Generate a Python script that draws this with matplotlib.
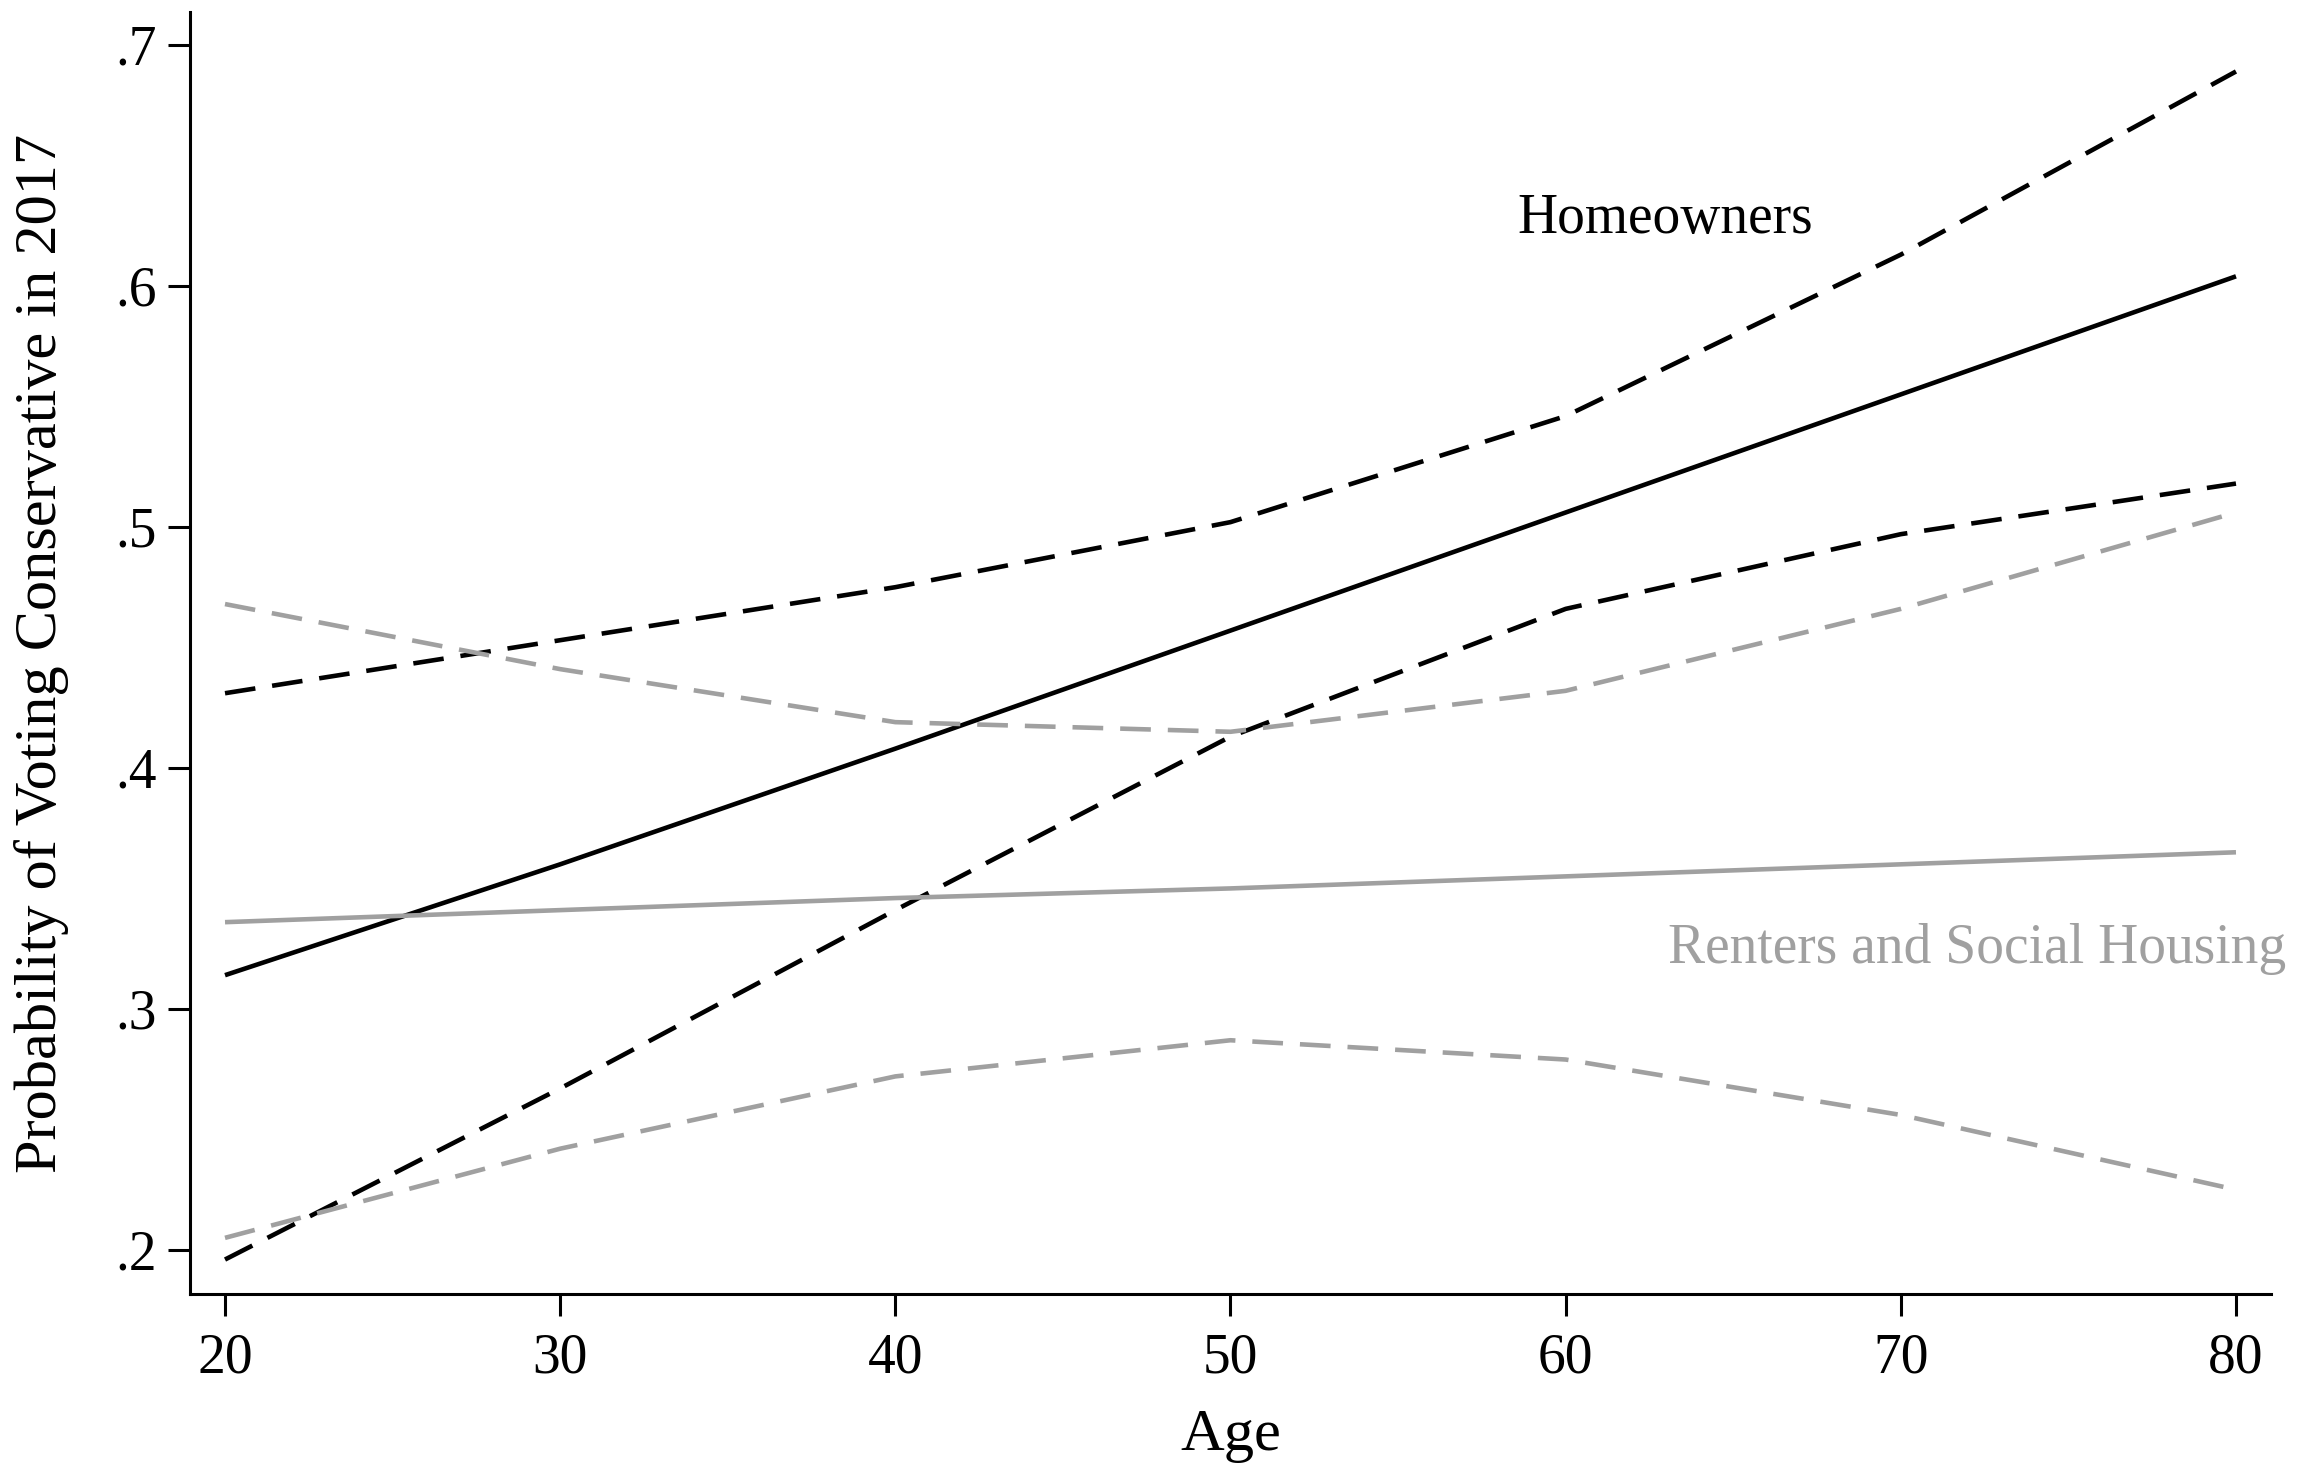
import matplotlib
matplotlib.use("Agg")
import matplotlib.pyplot as plt
import numpy as np

plt.rcParams['font.family'] = ['Liberation Serif', 'DejaVu Serif']

# predicted probabilities by age, with 95% bounds
age = [20, 30, 40, 50, 60, 70, 80]

own_mean = [0.314, 0.360, 0.408, 0.457, 0.506, 0.555, 0.604]
own_hi = [0.431, 0.453, 0.475, 0.502, 0.546, 0.613, 0.689]
own_lo = [0.196, 0.267, 0.341, 0.413, 0.466, 0.497, 0.518]

rent_mean = [0.336, 0.341, 0.346, 0.350, 0.355, 0.360, 0.365]
rent_hi = [0.468, 0.441, 0.419, 0.415, 0.432, 0.466, 0.506]
rent_lo = [0.205, 0.242, 0.272, 0.287, 0.279, 0.256, 0.225]

xticks = [20, 30, 40, 50, 60, 70, 80]
yticks = [0.2, 0.3, 0.4, 0.5, 0.6, 0.7]
ylabels = ['.2', '.3', '.4', '.5', '.6', '.7']

black = 'black'
grey = '#a0a0a0'
lw = 3.3
dash = (6.7, 3.7)

fig = plt.figure(figsize=(23.23, 14.76), dpi=100)
ax = fig.add_axes([0.0818, 0.1233, 0.8958, 0.8686])

ax.plot(age, own_mean, color=black, lw=lw, solid_capstyle='butt')
ax.plot(age, own_hi, color=black, lw=lw, dashes=dash, dash_capstyle='butt')
ax.plot(age, own_lo, color=black, lw=lw, dashes=dash, dash_capstyle='butt')

ax.plot(age, rent_mean, color=grey, lw=lw, solid_capstyle='butt')
ax.plot(age, rent_hi, color=grey, lw=lw, dashes=dash, dash_capstyle='butt')
ax.plot(age, rent_lo, color=grey, lw=lw, dashes=dash, dash_capstyle='butt')

ax.text(58.57, 0.622, 'Homeowners', fontsize=40, color=black,
        va='baseline', ha='left')
ax.text(63.05, 0.319, 'Renters and Social Housing', fontsize=40, color=grey,
        va='baseline', ha='left')

ax.set_xlim(18.956, 81.044)
ax.set_ylim(0.1817, 0.7137)
ax.set_xticks(xticks)
ax.set_yticks(yticks)
ax.set_yticklabels(ylabels)

for side in ['top', 'right']:
    ax.spines[side].set_visible(False)
for side in ['left', 'bottom']:
    ax.spines[side].set_linewidth(2.2)
ax.tick_params(axis='both', direction='out', length=16, width=2.2, labelsize=40)
ax.tick_params(axis='y', pad=8)
ax.tick_params(axis='x', pad=12)

ax.set_xlabel('Age', fontsize=43.5)
ax.xaxis.set_label_coords(0.5, -0.111)
ax.xaxis.label.set_verticalalignment('center')
ax.set_ylabel('Probability of Voting Conservative in 2017', fontsize=43.5)
ax.yaxis.set_label_coords(-0.0716, 0.5)
ax.yaxis.label.set_verticalalignment('center')

fig.savefig('out.png', dpi=100, facecolor='white')
